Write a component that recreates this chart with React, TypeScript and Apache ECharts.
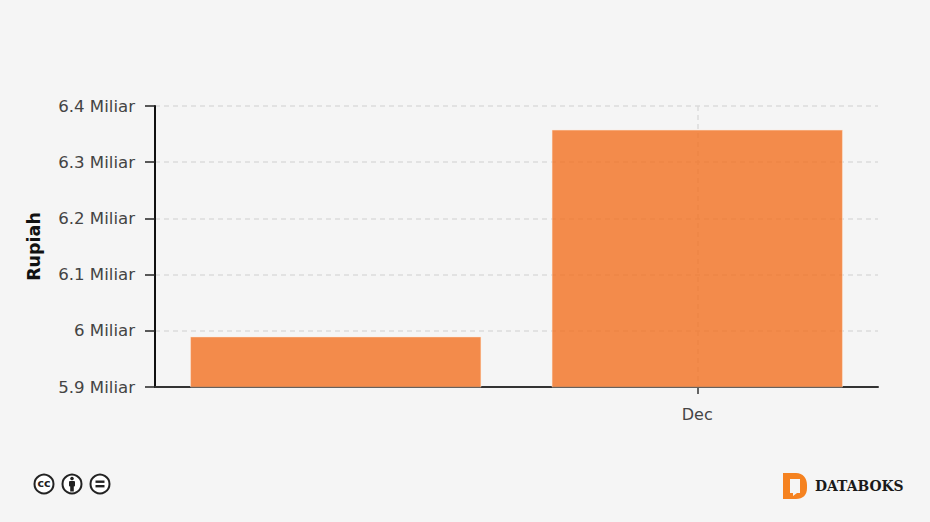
import React, { useEffect, useRef } from "react";
import * as echarts from "echarts";

const categories = ["", "Dec"];
const rupiahValues = [5.99e9, 6.358e9];
const yMin = 5.9e9;
const yMax = 6.4e9;
const yStep = 1e8;
const axisTitle = "Rupiah";
const brandName = "DATABOKS";

const FONT = "'DejaVu Sans', Verdana, sans-serif";
const GRID_COLOR = "#dcdcdc";

echarts.graphic.registerShape(
  "dLogo",
  echarts.graphic.extendPath(
    "M0 0H13C20 0 24 5 24 12V15C24 22 20 26 13 26H0ZM7 6V20H10V23L14 20H17V6Z",
    {}
  )
);

export default function App() {
  const ref = useRef<HTMLDivElement>(null);
  useEffect(() => {
    const chart = echarts.init(ref.current!, null, { renderer: "svg" });
    chart.setOption({
      animation: false,
      backgroundColor: "#f5f5f5",
      grid: { left: 155, right: 52, top: 106, bottom: 135 },
      xAxis: {
        type: "category",
        data: categories,
        axisLine: { show: true, lineStyle: { color: "#333", width: 2 } },
        axisTick: {
          show: true,
          alignWithLabel: true,
          length: 7,
          interval: (i: number) => i === 1,
          lineStyle: { color: "#333", width: 1.5 },
        },
        axisLabel: { color: "#444", fontFamily: FONT, fontSize: 16, margin: 19, interval: 0 },
        splitLine: {
          show: true,
          alignWithLabel: true,
          interval: (i: number) => i === 1,
          lineStyle: { color: GRID_COLOR, width: 1.5, type: [5, 4] },
        },
      },
      yAxis: {
        type: "value",
        min: yMin,
        max: yMax,
        interval: yStep,
        name: axisTitle,
        nameLocation: "middle",
        nameGap: 112,
        nameTextStyle: { color: "#111", fontFamily: FONT, fontSize: 17.5, fontWeight: "bold" },
        axisLine: { show: true, onZero: false, lineStyle: { color: "#111", width: 2 } },
        axisTick: { show: true, length: 10, lineStyle: { color: "#222", width: 1.5 } },
        axisLabel: {
          color: "#444",
          fontFamily: FONT,
          fontSize: 16.6,
          margin: 20,
          formatter: (v: number) => `${Math.round(v / 1e8) / 10} Miliar`,
        },
        splitLine: { show: true, lineStyle: { color: GRID_COLOR, width: 1.5, type: [5, 4] } },
      },
      series: [
        {
          type: "bar",
          data: rupiahValues,
          barWidth: "80.6%",
          itemStyle: { color: "rgba(243,112,33,0.8)", borderColor: "rgba(255,235,220,0.5)", borderWidth: 1 },
        },
      ],
      graphic: [
        ...[44, 72, 100].map((cx) => ({
          type: "circle",
          shape: { cx, cy: 484, r: 9.5 },
          style: { fill: "#fff", stroke: "#222", lineWidth: 2 },
        })),
        { type: "text", x: 44, y: 483, style: { text: "cc", fill: "#222", font: "bold 11px 'DejaVu Sans'", align: "center", verticalAlign: "middle" } },
        { type: "circle", shape: { cx: 72, cy: 478.5, r: 1.8 }, style: { fill: "#222" } },
        { type: "rect", shape: { x: 69, y: 481, width: 6, height: 5.5, r: 1 }, style: { fill: "#222" } },
        { type: "rect", shape: { x: 70.2, y: 486, width: 3.6, height: 5.5 }, style: { fill: "#222" } },
        { type: "rect", shape: { x: 95.5, y: 480.5, width: 9, height: 2.4 }, style: { fill: "#222" } },
        { type: "rect", shape: { x: 95.5, y: 485, width: 9, height: 2.4 }, style: { fill: "#222" } },
        { type: "dLogo", x: 783, y: 473, style: { fill: "#f58220" } },
        { type: "text", x: 815, y: 486, style: { text: brandName, fill: "#1a1a1a", font: "bold 13.9px 'DejaVu Serif'", verticalAlign: "middle" } },
      ],
    });
    return () => chart.dispose();
  }, []);
  return <div ref={ref} style={{ position: "fixed", left: 0, top: 0, width: 930, height: 522 }} />;
}
